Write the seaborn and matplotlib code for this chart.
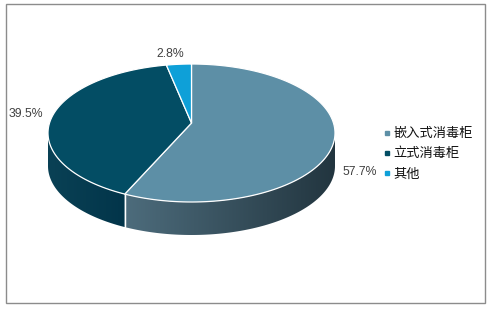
import numpy as np
import matplotlib
matplotlib.use("Agg")
import matplotlib.pyplot as plt
import seaborn as sns
from matplotlib.patches import Polygon, Rectangle
from matplotlib.colors import LinearSegmentedColormap
from matplotlib.lines import Line2D

categories = ["嵌入式消毒柜", "立式消毒柜", "其他"]
shares = [57.7, 39.5, 2.8]
labels = ["57.7%", "39.5%", "2.8%"]

sns.set_theme(style="white")
plt.rcParams['font.family'] = ['Noto Sans CJK SC', 'DejaVu Sans']

top_colors = ["#5d8fa6", "#034d64", "#0ea0d8"]
side_colors = [("#4d6c7c", "#22353f"), ("#0a4155", "#02354a"), ("#0b7fab", "#0b7fab")]

fig = plt.figure(figsize=(4.87, 3.09), dpi=100)
ax = fig.add_axes([0, 0, 1, 1])
ax.set_xlim(0, 487)
ax.set_ylim(309, 0)
ax.axis('off')

cx, cy, rx, ry, depth = 191.5, 133, 143.5, 69, 33


def pts(t0, t1, dy=0, n=120):
    t = np.radians(np.linspace(t0, t1, n))
    return np.column_stack([cx + rx * np.cos(t), cy - ry * np.sin(t) + dy])


fracs = np.array(shares) / sum(shares)
angles = 90 - 360 * np.concatenate([[0], np.cumsum(fracs)])

# side walls (visible front half: theta in [-180, 0])
for i in range(len(shares)):
    a, b = angles[i], angles[i + 1]  # a > b
    lo, hi = max(b, -180), min(a, 0)
    if hi <= lo:
        continue
    top = pts(hi, lo)
    bot = pts(lo, hi, dy=depth)
    poly = np.vstack([top, bot])
    patch = Polygon(poly, closed=True, facecolor='none', edgecolor='none')
    ax.add_patch(patch)
    x0, x1 = poly[:, 0].min(), poly[:, 0].max()
    y0, y1 = poly[:, 1].min(), poly[:, 1].max()
    cmap = LinearSegmentedColormap.from_list("g", list(side_colors[i]))
    grad = np.linspace(0, 1, 256)[None, :]
    im = ax.imshow(grad, cmap=cmap, extent=[x0, x1, y1, y0], aspect='auto', zorder=1)
    im.set_clip_path(patch)
    # vertical edge at slice boundary
    for t in (a, b):
        if -180 < t < 0:
            p = pts(t, t, n=1)[0]
            ax.plot([p[0], p[0]], [p[1], p[1] + depth], color='white', lw=0.9, zorder=2)

ax.set_xlim(0, 487)
ax.set_ylim(309, 0)

# top wedges
for i in range(len(shares)):
    arc = pts(angles[i], angles[i + 1])
    poly = np.vstack([[cx, cy - 10], arc])
    ax.add_patch(Polygon(poly, closed=True, facecolor=top_colors[i],
                         edgecolor='white', lw=0.9, zorder=3))

# labels
nudges = [(5, -13), (0, -7), (-6, 1.5)]
for i, lab in enumerate(labels):
    m = np.radians((angles[i] + angles[i + 1]) / 2)
    lx = cx + rx * 1.17 * np.cos(m) + nudges[i][0]
    ly = cy - ry * 1.17 * np.sin(m) + (depth if np.sin(m) < 0 else 0) + nudges[i][1]
    ax.text(lx, ly, lab, ha='center', va='center', fontsize=8.8,
            color='#404040', family=['Liberation Sans', 'DejaVu Sans'], zorder=5)

# frame
ax.add_patch(Rectangle((5.5, 3.5), 479.5, 299.5, fill=False, edgecolor='#8c8c8c', lw=1, zorder=6))

handles = [Line2D([], [], marker='s', ls='none', markersize=3.2, color=c) for c in top_colors]
fig.legend(handles, categories, loc='center left', bbox_to_anchor=(377 / 487, 1 - 154 / 309),
           frameon=False, fontsize=9.5, handlelength=0.5, handletextpad=0.25,
           labelspacing=0.55, borderpad=0, labelcolor='#111111')

fig.savefig("out.png", dpi=100)
